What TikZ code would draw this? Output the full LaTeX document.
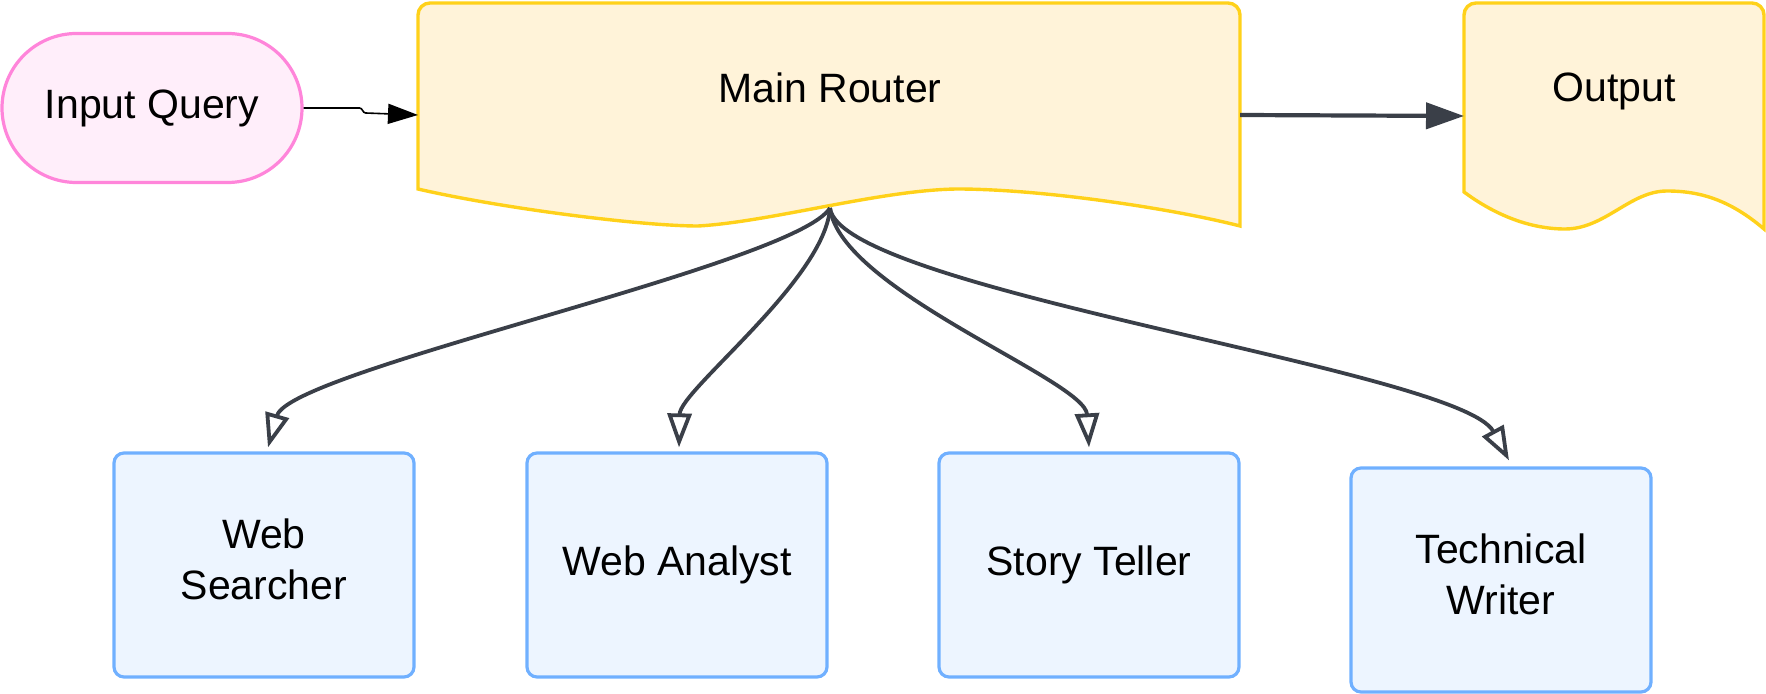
\documentclass[tikz,border=0pt]{standalone}
\usepackage{fontspec}
\setmainfont{Liberation Sans}
\usetikzlibrary{arrows.meta,shapes.misc}
\definecolor{pinkS}{HTML}{FF85DA}
\definecolor{pinkF}{HTML}{FFEEFA}
\definecolor{yelS}{HTML}{FFD11A}
\definecolor{yelF}{HTML}{FFF3D9}
\definecolor{bluS}{HTML}{70B0FF}
\definecolor{bluF}{HTML}{EDF5FF}
\definecolor{edgec}{HTML}{3A3F48}
\tikzset{
  lbl/.style={font=\fontsize{20.5pt}{25.5pt}\selectfont, align=center, text=black},
  agent/.style={lbl, draw=bluS, fill=bluF, line width=1.6pt, rounded corners=5pt,
    minimum width=150pt, minimum height=112pt, inner sep=0pt},
  startnode/.style={lbl, rounded rectangle, draw=pinkS, fill=pinkF, line width=1.6pt,
    minimum width=150pt, minimum height=74.5pt, inner sep=0pt},
  docshape/.style={draw=yelS, fill=yelF, line width=1.7pt},
  ghost/.style={inner sep=0pt, outer sep=0pt},
  route/.style={draw=edgec, line width=1.9pt, -{Triangle[open,length=17pt,width=12pt]}},
  mainarrow/.style={draw=edgec, line width=2.1pt, -{Triangle[length=19pt,width=13pt]}},
  thinarrow/.style={draw=black, line width=0.8pt, -{Triangle[length=15pt,width=10pt]}}
}
\begin{document}
\begin{tikzpicture}[x=0.5pt,y=-0.5pt]
\useasboundingbox (0,0) rectangle (1766,694);

% Main Router document shape
\path[docshape] (418,189) [rounded corners=6pt] -- (418,3) -- (1240,3) -- (1240,120) [sharp corners] -- (1240,226)
  .. controls (1170,208) and (1040,189) .. (957,189)
  .. controls (880,190) and (770,222) .. (698,226)
  .. controls (640,226) and (500,208) .. (418,189) -- cycle;
\node[ghost, minimum width=411pt, minimum height=111.5pt] (router) at (829,115) {};
\node[lbl] (routerlbl) at (830,88) {Main Router};

% Output document shape
\path[docshape] (1464,192) [rounded corners=6pt] -- (1464,3) -- (1764,3) -- (1764,120) [sharp corners] -- (1764,229)
  .. controls (1730,200) and (1700,191) .. (1667,191)
  .. controls (1630,191) and (1605,229) .. (1565,229)
  .. controls (1530,229) and (1495,215) .. (1464,192) -- cycle;
\node[ghost, minimum width=150pt, minimum height=113pt] (output) at (1614,116) {};
\node[lbl] (outputlbl) at (1614,91) {Output};

% Input query
\node[startnode] (inq) at (152,108) {Input Query};

% Agents
\node[agent] (ws) at (264,565) {Web\\Searcher\rule[-6pt]{0pt}{6pt}};
\node[agent] (wa) at (677,565) {Web Analyst};
\node[agent] (st) at (1089,565) {Story Teller};
\node[agent] (tw) at (1501,580) {Technical\\Writer\rule[-6pt]{0pt}{6pt}};

% Connectors
\coordinate (src) at (830,208);
\draw[thinarrow] (inq.east) -- ++(56,0) .. controls +(3,0) and +(-3,0) .. ++(6,5) -- (router.west);
\draw[mainarrow] (router.east) -- (output.west);

\draw[route] (src) .. controls (795,265) and (290,370) .. ([xshift=2pt,yshift=2pt]ws.north);
\draw[route] (src) .. controls (825,280) and (680,390) .. ([xshift=1pt,yshift=2pt]wa.north);
\draw[route] (src) .. controls (840,290) and (1085,380) .. ([yshift=2pt]st.north);
\draw[route] (src) .. controls (840,290) and (1460,370) .. ([xshift=4pt,yshift=3pt]tw.north);
\end{tikzpicture}
\end{document}
